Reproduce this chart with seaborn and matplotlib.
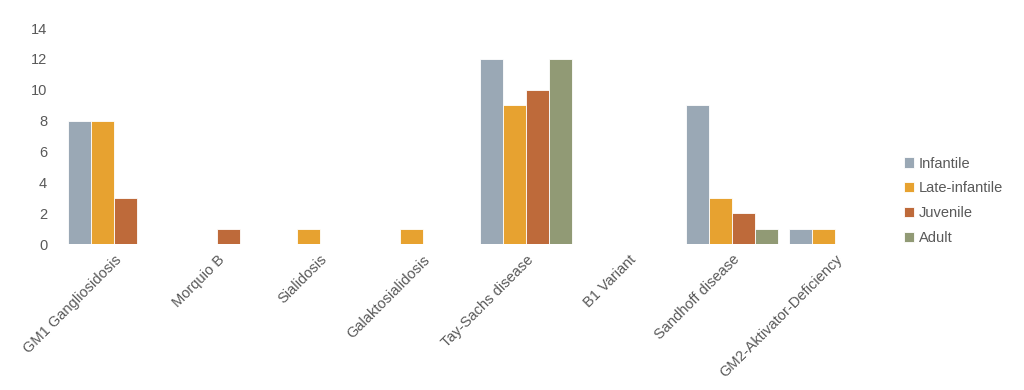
import matplotlib
matplotlib.use("Agg")
import matplotlib.pyplot as plt
import seaborn as sns
import pandas as pd

diseases = ["GM1 Gangliosidosis", "Morquio B", "Sialidosis", "Galaktosialidosis",
            "Tay-Sachs disease", "B1 Variant", "Sandhoff disease", "GM2-Aktivator-Deficiency"]
infantile = [8, 0, 0, 0, 12, 0, 9, 1]
late_infantile = [8, 0, 1, 1, 9, 0, 3, 1]
juvenile = [3, 1, 0, 0, 10, 0, 2, 0]
adult = [0, 0, 0, 0, 12, 0, 1, 0]
onset = ["Infantile", "Late-infantile", "Juvenile", "Adult"]
colors = ["#9AA8B5", "#E7A230", "#BE6A3A", "#919A75"]
yticks = [0, 2, 4, 6, 8, 10, 12, 14]

rows = []
for name, vals in zip(onset, [infantile, late_infantile, juvenile, adult]):
    for d, v in zip(diseases, vals):
        rows.append({"disease": d, "onset": name, "count": v})
df = pd.DataFrame(rows)

sns.set_theme(style="white")
plt.rcParams["font.family"] = ["Liberation Sans", "DejaVu Sans"]
txt = "#595959"

fig = plt.figure(figsize=(10.24, 3.9), dpi=100)
ax = fig.add_axes([0.061, 0.374, 0.805, 0.554])

sns.barplot(data=df, x="disease", y="count", hue="onset", order=diseases,
            hue_order=onset, palette=colors, saturation=1, width=0.89,
            edgecolor="white", linewidth=0.6, ax=ax)

ax.set_ylim(0, 14)
ax.set_yticks(yticks)
ax.set_xlim(-0.5, len(diseases) - 0.5)
ax.set_xlabel("")
ax.set_ylabel("")
for s in ax.spines.values():
    s.set_visible(False)
ax.tick_params(axis="both", length=0, colors=txt, labelsize=10.5)
ax.tick_params(axis="y", pad=11)
ax.tick_params(axis="x", pad=6)
plt.setp(ax.get_xticklabels(), rotation=45, ha="right", rotation_mode="anchor")

h, l = ax.get_legend_handles_labels()
ax.legend(h, l, loc="center left", bbox_to_anchor=(1.005, 0.2), frameon=False,
          fontsize=10.5, labelcolor=txt, handlelength=0.7, handleheight=0.7,
          handletextpad=0.3, labelspacing=0.75)

fig.savefig("out.png", dpi=100)
